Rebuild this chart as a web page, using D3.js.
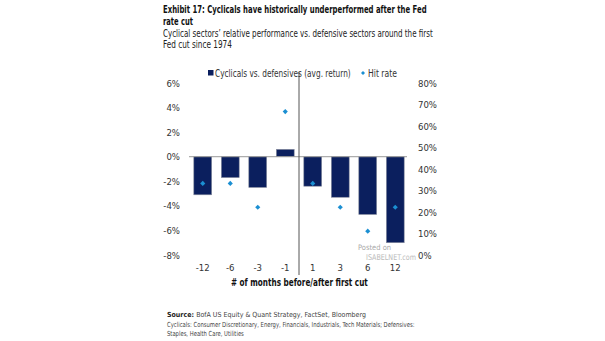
<!DOCTYPE html>
<html><head><meta charset="utf-8">
<script src="https://cdn.jsdelivr.net/npm/d3@7"></script>
<style>
body{margin:0;background:#fff;}
svg{display:block;}
text{font-family:"DejaVu Sans Condensed","Liberation Sans",sans-serif;}
</style></head>
<body>
<svg id="c" width="605" height="341"></svg>
<script>
const categories = ["-12","-6","-3","-1","1","3","6","12"];
const avgReturn = [-3.1,-1.7,-2.5,0.6,-2.4,-3.3,-4.7,-7.0];
const hitRate = [33.3,33.3,22.2,66.7,33.3,22.2,11.1,22.2];
const leftTicks = [-8,-6,-4,-2,0,2,4,6];
const rightTicks = [0,10,20,30,40,50,60,70,80];

const svg = d3.select("#c");
const navy = "#0b1f5e", blue = "#1b8fd2";
const diamond = s => d3.symbol(d3.symbolSquare, s)();

// place text at (x,y) and squeeze it horizontally to width w
function fitText(sel, x, y, w){
  sel.attr("x",0).attr("y",0);
  const len = sel.node().getComputedTextLength();
  sel.attr("transform",`translate(${x},${y}) scale(${w/len},1)`);
  return sel;
}

// Titles
fitText(svg.append("text").attr("font-size",11).attr("font-weight","bold").attr("fill","#111")
  .text("Exhibit 17: Cyclicals have historically underperformed after the Fed"), 163, 13, 264);
fitText(svg.append("text").attr("font-size",11).attr("font-weight","bold").attr("fill","#111")
  .text("rate cut"), 163, 25, 30);
fitText(svg.append("text").attr("font-size",10.5).attr("fill","#222")
  .text("Cyclical sectors\u2019 relative performance vs. defensive sectors around the first"), 163, 37, 270);
fitText(svg.append("text").attr("font-size",10.5).attr("fill","#222")
  .text("Fed cut since 1974"), 163, 48, 69);

const y = d3.scaleLinear().domain([-8,6]).range([255,83]);
const y2 = d3.scaleLinear().domain([0,80]).range([255,83]);
const x = d3.scaleBand().domain(categories).range([189,409]).paddingInner(0.35).paddingOuter(0.175);

// Left axis
const la = svg.append("g").attr("transform","translate(182,0)")
  .call(d3.axisLeft(y).tickValues(leftTicks).tickSize(0).tickPadding(2).tickFormat(d=>d+"%"));
la.select(".domain").remove();
la.selectAll("text").attr("font-size",9.5).attr("fill","#333").style("font-family",'"DejaVu Sans Condensed",sans-serif');

// Right axis
const ra = svg.append("g").attr("transform","translate(416,0)")
  .call(d3.axisRight(y2).tickValues(rightTicks).tickSize(0).tickPadding(2).tickFormat(d=>d+"%"));
ra.select(".domain").remove();
ra.selectAll("text").attr("font-size",9.5).attr("fill","#333").style("font-family",'"DejaVu Sans Condensed",sans-serif');

// Bars
svg.append("g").selectAll("rect").data(categories).join("rect")
  .attr("x",d=>x(d)).attr("width",x.bandwidth())
  .attr("y",(d,i)=>y(Math.max(0,avgReturn[i])))
  .attr("height",(d,i)=>Math.abs(y(avgReturn[i])-y(0)))
  .attr("fill",navy).attr("stroke","#8a8fa0").attr("stroke-width",0.6);

// Zero line
svg.append("line").attr("x1",189).attr("x2",407).attr("y1",y(0)).attr("y2",y(0)).attr("stroke","#999").attr("stroke-width",1);

// Vertical separator between -1 and 1
const vx = (x("-1")+x.bandwidth()+x("1"))/2;
svg.append("line").attr("x1",vx).attr("x2",vx).attr("y1",72).attr("y2",275).attr("stroke","#555").attr("stroke-width",1);

// Hit rate diamonds
svg.append("g").selectAll("path").data(categories).join("path")
  .attr("d",diamond(13))
  .attr("transform",(d,i)=>`translate(${x(d)+x.bandwidth()/2},${y2(hitRate[i])}) rotate(45)`)
  .attr("fill",blue);

// X tick labels
svg.append("g").selectAll("text").data(categories).join("text")
  .attr("x",d=>x(d)+x.bandwidth()/2).attr("y",270.5).attr("text-anchor","middle")
  .attr("font-size",9.5).attr("fill","#333").text(d=>d);

// X axis title
fitText(svg.append("text").attr("font-size",10.5).attr("font-weight","bold").attr("fill","#111")
  .text("# of months before/after first cut"), 231, 285.5, 137);

// Legend
svg.append("rect").attr("x",208).attr("y",70).attr("width",5.5).attr("height",5.5).attr("fill",navy);
fitText(svg.append("text").attr("font-size",10).attr("fill","#333")
  .text("Cyclicals vs. defensives (avg. return)"), 215, 76.5, 136);
svg.append("path").attr("d",diamond(8)).attr("transform","translate(363,73) rotate(45)").attr("fill",blue);
fitText(svg.append("text").attr("font-size",10).attr("fill","#333").text("Hit rate"), 368, 76.5, 29);

// Watermark
svg.append("text").attr("x",358).attr("y",250).attr("font-size",7.5).attr("fill","#aaa").attr("font-family","Liberation Sans, sans-serif").text("Posted on");
fitText(svg.append("text").attr("font-size",8).attr("fill","#bbb").attr("font-family","Liberation Sans, sans-serif").text("ISABELNET.com"), 366, 260, 50);

// Footnotes
const fn = svg.append("g").attr("font-size",7).attr("fill","#444");
const s = fn.append("text").attr("x",167).attr("y",317);
s.append("tspan").attr("font-weight","bold").attr("fill","#222").text("Source: ");
s.append("tspan").text(" BofA US Equity  & Quant Strategy, FactSet, Bloomberg");
fitText(fn.append("text").text("Cyclicals: Consumer Discretionary, Energy, Financials, Industrials, Tech Materials; Defensives:"), 167, 326.5, 248);
fitText(fn.append("text").text("Staples, Health Care, Utilities"), 167, 336, 77);
</script>
</body></html>
